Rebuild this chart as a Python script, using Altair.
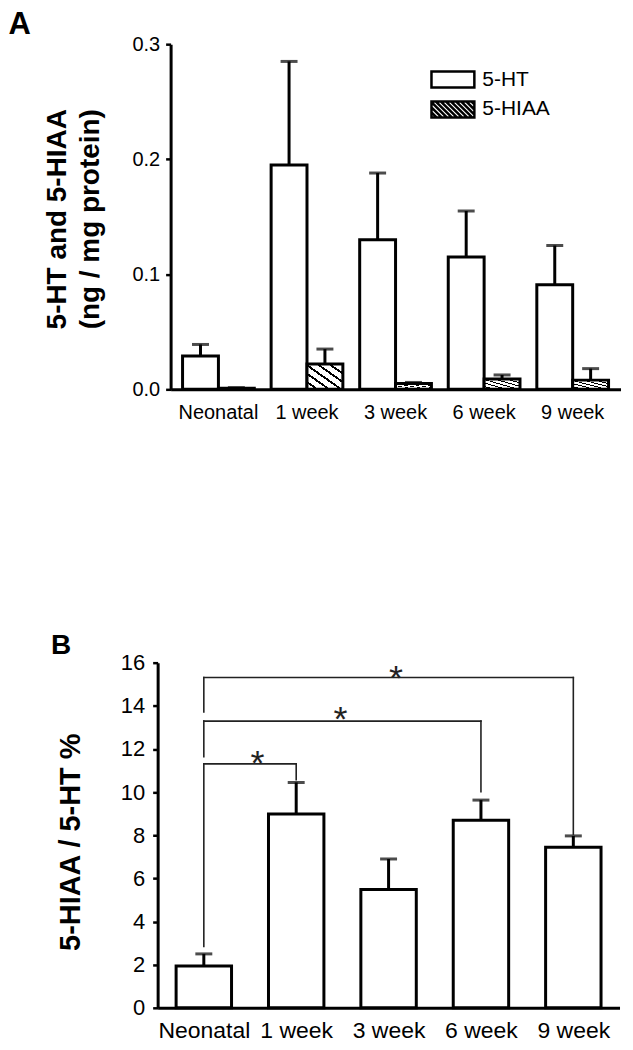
import json
import altair as alt
import pandas as pd

# ---------------- data ----------------
groups = ["Neonatal", "1 week", "3 week", "6 week", "9 week"]
series = ["5-HT", "5-HIAA"]

ht_mean = [0.029, 0.195, 0.130, 0.115, 0.091]
ht_upper = [0.039, 0.285, 0.188, 0.155, 0.125]
hiaa_mean = [0.001, 0.022, 0.005, 0.009, 0.008]
hiaa_upper = [0.0015, 0.035, 0.006, 0.0125, 0.018]

ratio_mean = [1.94, 8.98, 5.48, 8.69, 7.44]
ratio_upper = [2.5, 10.45, 6.9, 9.63, 7.97]

# significance brackets in panel B (category index / value units)
br_left = [0, 0, 0]
br_right = [1, 3, 4]
br_top = [11.31, 13.29, 15.31]
br_left_bottom = [2.85, 11.64, 13.72]
br_right_bottom = [10.58, 10.02, 8.05]
star_x = [0.58, 1.48, 2.08]
star_y = [11.75, 13.8, 15.7]

FONT = "Liberation Sans"
PW = 451  # plot width

# ---------------- tables ----------------
rowsA = []
for i, g in enumerate(groups):
    rowsA.append({"group": g, "series": "5-HT", "mean": ht_mean[i], "upper": ht_upper[i]})
    rowsA.append({"group": g, "series": "5-HIAA", "mean": hiaa_mean[i], "upper": hiaa_upper[i]})
dfA = pd.DataFrame(rowsA)

dfB = pd.DataFrame({"pos": list(range(len(groups))), "group": groups,
                    "mean": ratio_mean, "upper": ratio_upper})

seg = []
for i in range(len(br_left)):
    seg.append({"x": br_left[i], "x2": br_right[i], "y": br_top[i], "y2": br_top[i]})
    seg.append({"x": br_left[i], "x2": br_left[i], "y": br_left_bottom[i], "y2": br_top[i]})
    seg.append({"x": br_right[i], "x2": br_right[i], "y": br_right_bottom[i], "y2": br_top[i]})
dfSeg = pd.DataFrame(seg)
dfStar = pd.DataFrame({"x": star_x, "y": star_y, "t": ["*"] * len(star_x)})

# ---------------- styles ----------------
N = 6
stops = []
for k in range(N):
    stops += [{"offset": k / N, "color": "white"},
              {"offset": (k + 0.72) / N, "color": "white"},
              {"offset": (k + 0.72) / N, "color": "black"},
              {"offset": (k + 1) / N, "color": "black"}]
hatch = {"gradient": "linear", "x1": 0, "y1": 1, "x2": 1, "y2": 0, "stops": stops}

W, H = 1.433, 0.533
rect_path = f"M{-W},{-H}H{W}V{H}H{-W}Z"
hatch_path = rect_path
t = -W - 2 * H
while t < W:
    x0, y0 = t, -H
    x1, y1 = t + 2 * H, H
    if x0 < -W:
        y0 += (-W - x0)
        x0 = -W
    if x1 > W:
        y1 -= (x1 - W)
        x1 = W
    if y1 > y0 + 0.05:
        hatch_path += f"M{x0:.3f},{y0:.3f}L{x1:.3f},{y1:.3f}"
    t += 0.34

# ---------------- panel A ----------------
xA = alt.X("group:N", sort=groups, title=None,
           scale=alt.Scale(paddingInner=0.19, paddingOuter=0.135),
           axis=alt.Axis(labelAngle=0, ticks=False, labelFontSize=20, labelPadding=13,
                         domainWidth=3, labelFont=FONT, grid=False))
xoA = alt.XOffset("series:N", sort=series, scale=alt.Scale(paddingInner=0, paddingOuter=0))
yA_scale = alt.Scale(domain=[0, 0.3], nice=False)

baseA = alt.Chart(dfA)
barsA = baseA.mark_bar(stroke="black", strokeWidth=3).encode(
    x=xA, xOffset=xoA,
    y=alt.Y("mean:Q", scale=yA_scale,
            axis=alt.Axis(values=[0, 0.1, 0.2, 0.3], format=".1f", tickSize=5, tickWidth=2.5,
                          labelFontSize=20, labelPadding=6, domainWidth=3, labelFont=FONT,
                          grid=False,
                          title=["5-HT and 5-HIAA", "(ng / mg protein)"],
                          titleFontSize=28, titleFontWeight="bold", titleFont=FONT,
                          titleAngle=270, titleAlign="center", titleBaseline="alphabetic",
                          titleLineHeight=32.4, titleX=-105, titleY=175)),
    fill=alt.condition("datum.series == '5-HIAA'", alt.value(hatch), alt.value("white")),
)
errA = baseA.mark_rule(color="black", strokeWidth=3).encode(
    x=xA, xOffset=xoA, y=alt.Y("mean:Q", scale=yA_scale), y2="upper:Q")
capA = baseA.mark_tick(color="black", orient="horizontal", size=17, thickness=3).encode(
    x=xA, xOffset=xoA, y=alt.Y("upper:Q", scale=yA_scale))
legA = baseA.transform_filter("false").mark_point(
    filled=False, color="black", strokeWidth=2.5, size=900, opacity=1).encode(
    shape=alt.Shape("series:N",
                    scale=alt.Scale(domain=series, range=[rect_path, hatch_path]),
                    legend=alt.Legend(title=None, orient="none", legendX=266.5, legendY=19,
                                      labelFontSize=21, labelFont=FONT, labelColor="black",
                                      symbolSize=900, symbolStrokeWidth=2.5,
                                      symbolFillColor="white", symbolStrokeColor="black",
                                      symbolOpacity=1, labelOffset=13, rowPadding=0,
                                      padding=0))
)

panelA = alt.layer(barsA, errA, capA, legA).properties(
    width=PW, height=346,
    title=alt.TitleParams("A", anchor="start", frame="group", dx=-162.5, dy=15.2,
                          fontSize=31, fontWeight="bold", font=FONT, offset=8))

# ---------------- panel B ----------------
labelExpr = json.dumps(groups) + "[datum.value]"
xB_scale = alt.Scale(domain=[-0.5, 4.5], range=[-13, PW - 1], nice=False, zero=False)
yB_scale = alt.Scale(domain=[0, 16], nice=False)
xB_axis = alt.Axis(values=list(range(len(groups))), labelExpr=labelExpr, ticks=False,
                   labelFontSize=23, labelPadding=12, domainWidth=3, labelFont=FONT,
                   grid=False, title=None)

baseB = alt.Chart(dfB).transform_calculate(lo="datum.pos - 0.3", hi="datum.pos + 0.3")
barsB = baseB.mark_bar(stroke="black", strokeWidth=3, fill="white").encode(
    x=alt.X("lo:Q", scale=xB_scale, axis=xB_axis), x2="hi:Q",
    y=alt.Y("mean:Q", scale=yB_scale,
            axis=alt.Axis(values=list(range(0, 17, 2)), tickSize=5, tickWidth=2.5, offset=13,
                          labelFontSize=22, labelPadding=8, domainWidth=3, labelFont=FONT,
                          grid=False, title="5-HIAA / 5-HT %",
                          titleFontSize=29, titleFontWeight="bold", titleFont=FONT,
                          titleAngle=270, titleAlign="center", titleBaseline="alphabetic",
                          titleX=-78, titleY=179.5)),
    y2=alt.datum(0),
)
errB = baseB.mark_rule(color="black", strokeWidth=3).encode(
    x=alt.X("pos:Q", scale=xB_scale), y=alt.Y("mean:Q", scale=yB_scale), y2="upper:Q")
capB = baseB.mark_tick(color="black", orient="horizontal", size=17, thickness=3).encode(
    x=alt.X("pos:Q", scale=xB_scale), y=alt.Y("upper:Q", scale=yB_scale))
segB = alt.Chart(dfSeg).mark_rule(color="#222222", strokeWidth=1.6, strokeCap="square").encode(
    x=alt.X("x:Q", scale=xB_scale), x2="x2:Q", y=alt.Y("y:Q", scale=yB_scale), y2="y2:Q")
starB = alt.Chart(dfStar).mark_text(fontSize=36, font=FONT, baseline="alphabetic", dy=21,
                                    color="#222222").encode(
    x=alt.X("x:Q", scale=xB_scale), y=alt.Y("y:Q", scale=yB_scale), text="t:N")

panelB = alt.layer(barsB, errB, capB, segB, starB).properties(
    width=PW, height=346,
    title=alt.TitleParams("B", anchor="start", frame="group", dx=-120, dy=16.5,
                          fontSize=28, fontWeight="bold", font=FONT, offset=8))

chart = alt.vconcat(panelA, panelB, spacing=274, bounds="flush").properties(
    padding={"left": 0, "top": 0, "right": -7.5, "bottom": 0},
    background="white",
).configure_view(strokeWidth=0).configure_axis(
    domainColor="black", tickColor="black", labelColor="black", titleColor="black", grid=False
)

chart.save("out.html", embed_options={"renderer": "svg", "actions": False})
